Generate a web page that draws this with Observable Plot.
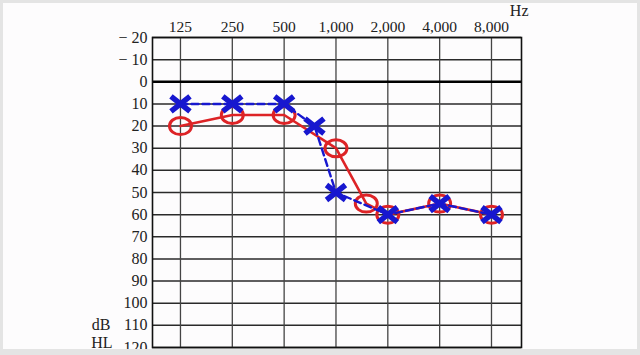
<!DOCTYPE html>
<html><head><meta charset="utf-8">
<script src="https://cdn.jsdelivr.net/npm/d3@7"></script>
<script src="https://cdn.jsdelivr.net/npm/@observablehq/plot@0.6"></script>
<style>
body{margin:0;background:#fdfcfd}
#wrap{position:relative;width:640px;height:355px;overflow:hidden;background:#fdfcfd}
#border{position:absolute;left:0;top:0;width:640px;height:355px;box-sizing:border-box;border:3px solid #e4e4e4;border-bottom-width:6px;pointer-events:none}
</style>
</head><body>
<div id="wrap"><div id="border"></div></div>
<script>
const frequencies = [125, 250, 500, 1000, 2000, 4000, 8000];
const frequencyLabels = ["125", "250", "500", "1,000", "2,000", "4,000", "8,000"];
const dbTicks = [-20, -10, 0, 10, 20, 30, 40, 50, 60, 70, 80, 90, 100, 110, 120];
const redFreq = [125, 250, 500, 1000, 1500, 2000, 4000, 8000];
const redDb = [20, 15, 15, 30, 55, 60, 55, 60];
const blueFreq = [125, 250, 500, 750, 1000, 2000, 4000, 8000];
const blueDb = [10, 10, 10, 20, 50, 60, 55, 60];

const red = redFreq.map((f, i) => ({f, db: redDb[i]}));
const blue = blueFreq.map((f, i) => ({f, db: blueDb[i]}));
const freqTable = frequencies.map((f, i) => ({f, label: frequencyLabels[i]}));

const ellipse = {draw(ctx) {
  const rx = 11, ry = 8.5, k = 0.5523;
  ctx.moveTo(rx, 0);
  ctx.bezierCurveTo(rx, ry * k, rx * k, ry, 0, ry);
  ctx.bezierCurveTo(-rx * k, ry, -rx, ry * k, -rx, 0);
  ctx.bezierCurveTo(-rx, -ry * k, -rx * k, -ry, 0, -ry);
  ctx.bezierCurveTo(rx * k, -ry, rx, -ry * k, rx, 0);
  ctx.closePath();
}};
const cross = {draw(ctx) {
  const rx = 9.5, ry = 7.5;
  ctx.moveTo(-rx, -ry); ctx.lineTo(rx, ry);
  ctx.moveTo(-rx, ry); ctx.lineTo(rx, -ry);
}};

const serif = "'Liberation Serif', 'DejaVu Serif', serif";
const redC = "#dd2326", blueC = "#1717cf";

const chart = Plot.plot({
  width: 640, height: 355,
  marginLeft: 152, marginRight: 119, marginTop: 37, marginBottom: 8,
  style: {fontFamily: serif, fontSize: "16px", color: "#222", background: "transparent"},
  x: {type: "log", domain: [86, 11950], axis: null},
  y: {domain: [-20, 120], reverse: true},
  marks: [
    Plot.ruleY(dbTicks.filter(d => d !== 0), {y: d => d, stroke: "#2a2a2a", strokeWidth: 1.5}),
    Plot.ruleX(frequencies, {x: d => d, stroke: "#444", strokeWidth: 1.3}),
    Plot.ruleY([0], {y: d => d, stroke: "#000", strokeWidth: 2.6}),
    Plot.frame({stroke: "#111", strokeWidth: 1.6}),
    Plot.text(freqTable, {x: "f", text: "label", frameAnchor: "top", lineAnchor: "middle", dy: -10, fontSize: 15.5, fill: "#222"}),
    Plot.axisY(dbTicks, {anchor: "left", tickSize: 0, tickPadding: 5, tickFormat: d => d < 0 ? "\u2212 " + (-d) : String(d), fontSize: 16, label: null}),
    Plot.text(["dB"], {y: () => 110, frameAnchor: "left", dx: -42, textAnchor: "end", text: d => d, fontSize: 16}),
    Plot.text(["HL"], {y: () => 120, frameAnchor: "left", dx: -40, dy: -5, textAnchor: "end", text: d => d, fontSize: 16}),
    Plot.text(["Hz"], {frameAnchor: "top-right", lineAnchor: "middle", dx: 7, dy: -27, textAnchor: "end", text: d => d, fontSize: 16}),
    Plot.line(red, {x: "f", y: "db", stroke: redC, strokeWidth: 2.6}),
    Plot.dot(red, {x: "f", y: "db", symbol: ellipse, stroke: redC, fill: "none", strokeWidth: 3}),
    Plot.line(blue, {x: "f", y: "db", stroke: blueC, strokeWidth: 2.4, strokeDasharray: "7,4"}),
    Plot.dot(blue, {x: "f", y: "db", symbol: cross, stroke: blueC, fill: "none", strokeWidth: 5.5})
  ]
});
document.getElementById("wrap").insertBefore(chart, document.getElementById("border"));
</script>
</body></html>
